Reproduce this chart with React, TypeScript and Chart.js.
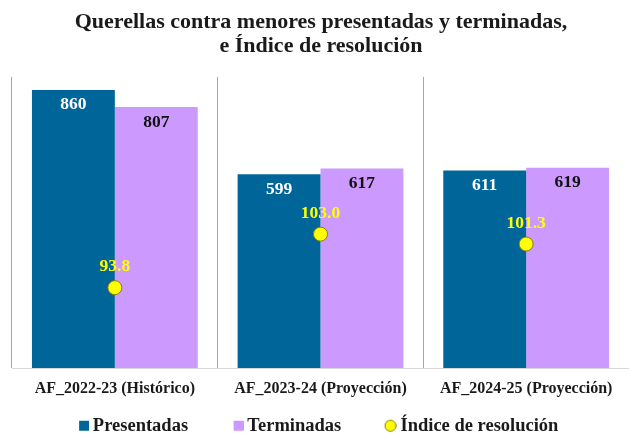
import React, { useEffect, useRef } from 'react';
import { Chart, registerables } from 'chart.js';

Chart.register(...registerables);

const categories = ['AF_2022-23 (Histórico)', 'AF_2023-24 (Proyección)', 'AF_2024-25 (Proyección)'];
const presentadas = [860, 599, 611];
const terminadas = [807, 617, 619];
const indice = [93.8, 103.0, 101.3];
const seriesNames = ['Presentadas', 'Terminadas', 'Índice de resolución'];
const titleLines = ['Querellas contra menores presentadas y terminadas,', 'e Índice de resolución'];

const FONT = "'Liberation Serif', 'Times New Roman', serif";
const BLUE = '#006699';
const LILAC = '#cc99ff';
const YELLOW = '#ffff00';
const POINT_BORDER = '#8c8000';
const TEXT = '#1a1a1a';

const LEGEND_BOX_W = 40;

function legendIcon(kind: 'rect' | 'circle', fill: string, stroke?: string) {
  const W = LEGEND_BOX_W + 11;
  const H = 14;
  const c = document.createElement('canvas');
  c.width = W;
  c.height = H;
  const g = c.getContext('2d')!;
  if (kind === 'rect') {
    g.fillStyle = fill;
    g.fillRect(W - 10, 2, 10, 10);
  } else {
    g.beginPath();
    g.arc(W - 6.3, 7, 5.5, 0, Math.PI * 2);
    g.fillStyle = fill;
    g.fill();
    g.strokeStyle = stroke || fill;
    g.lineWidth = 1;
    g.stroke();
  }
  return c;
}

const valueLabels = {
  id: 'valueLabels',
  afterDatasetsDraw(chart: any) {
    const { ctx } = chart;
    ctx.save();
    ctx.textAlign = 'center';
    ctx.textBaseline = 'middle';
    ctx.font = `bold 17.5px ${FONT}`;
    chart.data.datasets.forEach((ds: any, di: number) => {
      const meta = chart.getDatasetMeta(di);
      meta.data.forEach((el: any, i: number) => {
        const v = ds.data[i] as number;
        if (di === 2) {
          ctx.fillStyle = YELLOW;
          ctx.fillText(v.toFixed(1), el.x, el.y - 21);
        } else {
          ctx.fillStyle = di === 0 ? '#ffffff' : '#111111';
          ctx.fillText(String(v), el.x, el.y + 15);
        }
      });
    });
    ctx.restore();
  },
};

// Shift the legend row so that it sits where the reference places it.
const legendShift = {
  id: 'legendShift',
  afterLayout(chart: any) {
    const l = chart.legend;
    if (l) {
      l.left -= 20;
      l.right -= 20;
    }
  },
};

export default function App() {
  const ref = useRef<HTMLCanvasElement | null>(null);

  useEffect(() => {
    if (!ref.current) return;
    const icons = [
      legendIcon('rect', BLUE),
      legendIcon('rect', LILAC),
      legendIcon('circle', YELLOW, POINT_BORDER),
    ];
    const chart = new Chart(ref.current, {
      type: 'bar',
      data: {
        labels: categories,
        datasets: [
          {
            type: 'bar',
            label: seriesNames[0],
            data: presentadas,
            backgroundColor: BLUE,
            yAxisID: 'y',
            barPercentage: 1,
            categoryPercentage: 0.806,
            order: 1,
          },
          {
            type: 'bar',
            label: seriesNames[1],
            data: terminadas,
            backgroundColor: LILAC,
            yAxisID: 'y',
            barPercentage: 1,
            categoryPercentage: 0.806,
            order: 1,
          },
          {
            type: 'line',
            label: seriesNames[2],
            data: indice,
            yAxisID: 'y2',
            showLine: false,
            pointRadius: 7,
            pointHoverRadius: 7,
            pointBackgroundColor: YELLOW,
            pointBorderColor: POINT_BORDER,
            pointBorderWidth: 1,
            order: 0,
          } as any,
        ],
      },
      options: {
        responsive: false,
        animation: false,
        layout: { autoPadding: false, padding: { left: 12, right: -1, top: 0, bottom: -9 } },
        scales: {
          x: {
            offset: true,
            grid: { offset: true, color: '#a6a6a6', drawTicks: false, lineWidth: 1 },
            border: { display: true, color: '#d9d9d9' },
            ticks: {
              font: { family: FONT, size: 16, weight: 'bold' },
              color: TEXT,
              padding: 11,
              maxRotation: 0,
              autoSkip: false,
            },
            afterFit: (s: any) => {
              s.height = 38.5;
            },
          },
          y: { display: false, min: 0, max: 900 },
          y2: { display: false, min: 80, max: 130, position: 'right' },
        },
        plugins: {
          title: {
            display: true,
            text: titleLines,
            color: TEXT,
            font: { family: FONT, size: 22, weight: 'bold', lineHeight: 24 / 22 },
            padding: { top: 10.5, bottom: 18.5 },
          },
          legend: {
            display: true,
            position: 'bottom',
            labels: {
              usePointStyle: true,
              pointStyleWidth: LEGEND_BOX_W,
              padding: 10,
              font: { family: FONT, size: 18.5, weight: 'bold' },
              color: TEXT,
              generateLabels: (ch: any) =>
                ch.data.datasets.map((ds: any, i: number) => ({
                  text: ds.label,
                  datasetIndex: i,
                  pointStyle: icons[i],
                  fillStyle: 'rgba(0,0,0,0)',
                  strokeStyle: 'rgba(0,0,0,0)',
                  lineWidth: 0,
                  hidden: false,
                  fontColor: TEXT,
                })),
            },
          },
          tooltip: { enabled: false },
        },
      } as any,
      plugins: [valueLabels, legendShift],
    });
    return () => chart.destroy();
  }, []);

  return (
    <div style={{ position: 'absolute', left: 0, top: 0, width: 629, height: 436, background: '#fff' }}>
      <canvas ref={ref} width={629} height={436} style={{ display: 'block' }} />
    </div>
  );
}
